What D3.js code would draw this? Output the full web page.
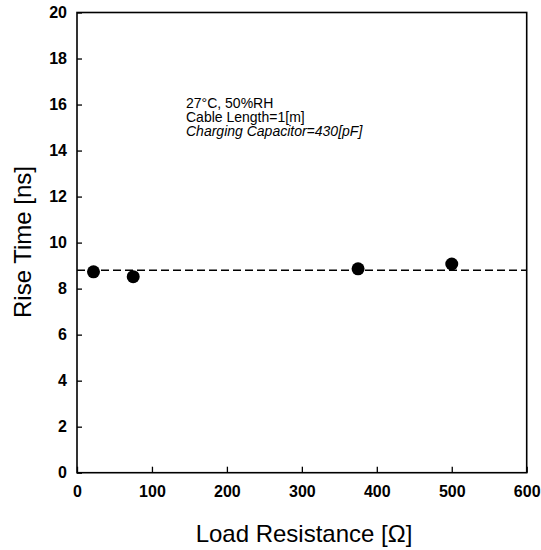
<!DOCTYPE html>
<html>
<head>
<meta charset="utf-8">
<script src="https://cdn.jsdelivr.net/npm/d3@7"></script>
<style>
    body { margin: 0; background: #fff; }
    svg text { font-family: "Liberation Sans", Arial, sans-serif; fill: #000; }
</style>
</head>
<body>
<div id="chart"></div>
<script>
// rise time vs load resistance
const resistance = [22, 75, 375, 500];
const riseTime = [8.73, 8.52, 8.86, 9.07];
const fitLevel = 8.8;   // dashed horizontal line
const xTicks = [0, 100, 200, 300, 400, 500, 600];
const yTicks = [0, 2, 4, 6, 8, 10, 12, 14, 16, 18, 20];
const notes = ["27\u00B0C, 50%RH", "Cable Length=1[m]", "Charging Capacitor=430[pF]"];

const W = 541, H = 550;
const margin = {top: 12.5, right: 14.3, bottom: 77.3, left: 77};
const width = W - margin.left - margin.right,
    height = H - margin.top - margin.bottom;

const svg = d3.select("#chart").append("svg")
    .attr("width", W)
    .attr("height", H)
    .append("g")
    .attr("transform", "translate(" + margin.left + "," + margin.top + ")");

// Scales
const x = d3.scaleLinear().domain([0, 600]).range([0, width]);
const y = d3.scaleLinear().domain([0, 20]).range([height, 0]);

// Axes, ticks pointing inward
const xAxis = d3.axisBottom(x).tickValues(xTicks).tickSizeInner(-6).tickSizeOuter(0).tickPadding(13);
const yAxis = d3.axisLeft(y).tickValues(yTicks).tickSizeInner(-5).tickSizeOuter(0).tickPadding(10);

svg.append("g")
    .attr("class", "x-axis")
    .attr("transform", "translate(0," + height + ")")
    .call(xAxis);

svg.append("g")
    .attr("class", "y-axis")
    .call(yAxis);

svg.selectAll(".x-axis, .y-axis").select(".domain").remove();
svg.selectAll(".tick line").attr("stroke", "#000").attr("stroke-width", 1.3);
svg.selectAll(".tick text")
    .style("font-size", "16px")
    .style("font-weight", "bold");

// frame
svg.append("rect")
    .attr("width", width)
    .attr("height", height)
    .attr("fill", "none")
    .attr("stroke", "#000")
    .attr("stroke-width", 1.6);

// dashed level line
svg.append("line")
    .attr("x1", x(0))
    .attr("x2", x(600))
    .attr("y1", y(fitLevel))
    .attr("y2", y(fitLevel))
    .attr("stroke", "#000")
    .attr("stroke-width", 1.4)
    .attr("stroke-dasharray", "8,4");

// points
svg.selectAll(".dot")
    .data(resistance.map((r, i) => ({r: r, t: riseTime[i]})))
    .enter().append("circle")
    .attr("class", "dot")
    .attr("cx", d => x(d.r))
    .attr("cy", d => y(d.t))
    .attr("r", 6.5)
    .attr("fill", "#000");

// annotation
const note = svg.append("text")
    .attr("x", 186 - margin.left)
    .attr("y", 108 - margin.top)
    .style("font-size", "14px");

note.selectAll("tspan")
    .data(notes)
    .enter().append("tspan")
    .attr("x", 186 - margin.left)
    .attr("dy", (d, i) => i === 0 ? 0 : 14)
    .style("font-style", (d, i) => i === 2 ? "italic" : "normal")
    .text(d => d);

// axis titles
svg.append("text")
    .attr("x", 304 - margin.left)
    .attr("y", 542 - margin.top)
    .attr("text-anchor", "middle")
    .style("font-size", "24px")
    .text("Load Resistance [\u03A9]");

svg.append("text")
    .attr("transform", "translate(" + (31 - margin.left) + "," + (242 - margin.top) + ") rotate(-90)")
    .attr("text-anchor", "middle")
    .style("font-size", "24px")
    .text("Rise Time [ns]");
</script>
</body>
</html>
